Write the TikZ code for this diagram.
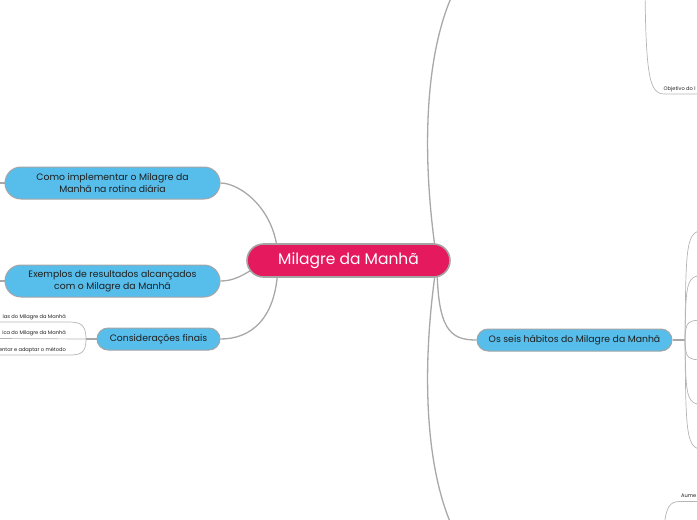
\documentclass[tikz,border=0pt]{standalone}
\usepackage{fontspec}
\setmainfont{Poppins}
\usetikzlibrary{backgrounds}
\definecolor{nodeblue}{HTML}{57BEEC}
\definecolor{nodepink}{HTML}{E5195E}
\definecolor{bordergray}{HTML}{A4A4A4}
\definecolor{linegray}{HTML}{A8A8A8}
\definecolor{thingray}{HTML}{B4B4B4}
\definecolor{textdark}{HTML}{1E1E1E}
\begin{document}
\begin{tikzpicture}[x=1pt,y=-1pt,
  bluebox/.style={draw=bordergray,line width=1pt,fill=nodeblue,text=textdark,
    font=\fontsize{9.3}{12}\selectfont,align=center,inner sep=0pt},
  pinkbox/.style={draw=bordergray,line width=1.6pt,fill=nodepink,text=white,
    font=\fontsize{15.5}{19}\selectfont,inner sep=0pt,minimum width=203pt,
    minimum height=33pt,rounded corners=16.5pt},
  mainline/.style={draw=linegray,line width=1.3pt},
  subline/.style={draw=thingray,line width=0.7pt},
  smalltext/.style={font=\fontsize{5.1}{6}\selectfont,text=textdark,inner sep=0pt}]
\useasboundingbox (0,0) rectangle (697,520);
\clip (0,0) rectangle (697,520);

% nodes
\node[pinkbox] (root) at (348.5,260.5) {Milagre da Manhã};
\node[bluebox,minimum width=215pt,minimum height=32pt,rounded corners=16pt] (como) at (112.5,183)
  {Como implementar o Milagre da\\Manhã na rotina diária};
\node[bluebox,minimum width=215pt,minimum height=32pt,rounded corners=16pt] (exem) at (112.5,281)
  {Exemplos de resultados alcançados\\com o Milagre da Manhã};
\node[bluebox,minimum width=123pt,minimum height=22pt,rounded corners=11pt] (cons) at (158.5,339)
  {Considerações finais};
\node[bluebox,minimum width=195pt,minimum height=22pt,rounded corners=11pt] (seis) at (574.5,340)
  {Os seis hábitos do Milagre da Manhã};

% small texts
\node[smalltext,anchor=base east] (c1) at (66,318) {ias do Milagre da Manhã};
\node[smalltext,anchor=base east] (c2) at (66,334.5) {ica do Milagre da Manhã};
\node[smalltext,anchor=base east] (c3) at (66,351) {entar e adaptar o método};
\node[smalltext,anchor=base west] (obj) at (663.5,90.5) {Objetivo do l};
\node[smalltext,anchor=base west] (aume) at (681,497) {Aume};

% coordinates
\coordinate (hubL) at (278,261);
\coordinate (hubR) at (437,261);
\coordinate (topend) at (460,-20);
\coordinate (botend) at (460,542);
\coordinate (seishub) at (685,340);
\coordinate (conshub) at (86,339);
\coordinate (comoend) at (-5,183);
\coordinate (exemend) at (-5,281);
\coordinate (cend1) at (-5,322);
\coordinate (cend2) at (-5,338.5);
\coordinate (cend3) at (-5,355);
\coordinate (h1) at (712,230);
\coordinate (h2) at (712,275);
\coordinate (h3) at (712,320);
\coordinate (h4) at (712,360);
\coordinate (h5) at (712,405);
\coordinate (h6) at (712,450);
\coordinate (objtop) at (645,-10);
\coordinate (objend) at (705,94);
\coordinate (aumebot) at (664,528);
\coordinate (aumeend) at (705,501.5);

\begin{pgfonlayer}{background}
  % main connectors
  \draw[mainline] (hubL) .. controls (278,210) and (240,183) .. (como.east);
  \draw[mainline] (hubL) .. controls (255,261) and (245,281) .. (exem.east);
  \draw[mainline] (hubL) .. controls (278,320) and (250,339) .. (cons.east);
  \draw[mainline] (hubR) .. controls (420,150) and (425,40) .. (topend);
  \draw[mainline] (hubR) .. controls (420,372) and (425,482) .. (botend);
  \draw[mainline] (hubR) .. controls (437,330) and (450,340) .. (seis.west);
  % stubs
  \draw[mainline] (como.west) -- (comoend);
  \draw[mainline] (exem.west) -- (exemend);
  % considerações branches
  \draw[mainline] (cons.west) -- (conshub);
  \draw[subline] (conshub) .. controls (86,324) and (80,322) .. (68,322) -- (cend1);
  \draw[subline] (conshub) -- (cend2);
  \draw[subline] (conshub) .. controls (86,354) and (80,355) .. (68,355) -- (cend3);
  % seis branches
  \draw[mainline] (seis.east) -- (seishub);
  \foreach \h/\y in {h1/230,h2/275,h3/320,h4/360,h5/405,h6/450}{
    \draw[subline] (seishub) .. controls (686,\y) and (686,\y) .. (\h);
  }
  % top right
  \draw[subline] (objtop) .. controls (646,80) and (650,94) .. (665,94) -- (objend);
  % bottom right
  \draw[subline] (aumebot) .. controls (666,506) and (670,501.5) .. (680,501.5) -- (aumeend);
\end{pgfonlayer}
\end{tikzpicture}
\end{document}
